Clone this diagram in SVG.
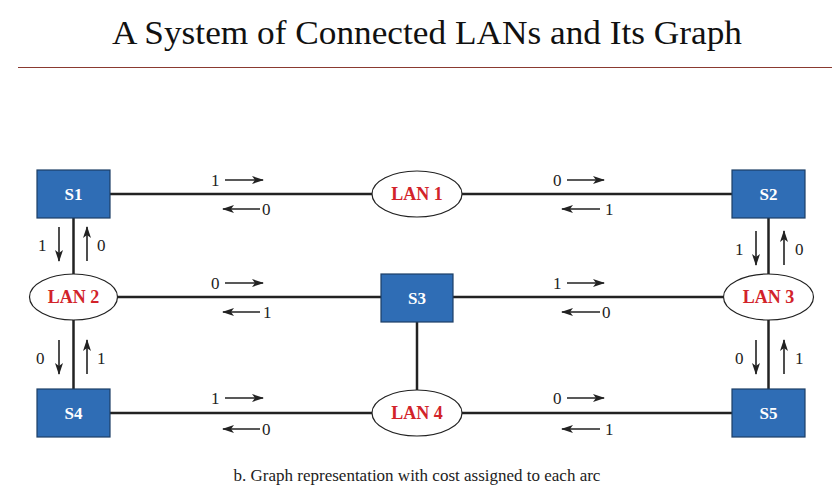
<svg xmlns="http://www.w3.org/2000/svg" width="835" height="499" viewBox="0 0 835 499">
<defs>
<marker id="ah" viewBox="0 0 12 8" refX="11" refY="4" markerWidth="12" markerHeight="8" markerUnits="userSpaceOnUse" orient="auto">
<path d="M0,0 L12,4 L0,8 L3,4 Z" fill="#222"/>
</marker>
</defs>
<rect width="835" height="499" fill="#fff"/>
<text font-family="Liberation Serif" font-size="34" fill="#111" x="427" y="44" text-anchor="middle" textLength="630" lengthAdjust="spacingAndGlyphs">A System of Connected LANs and Its Graph</text>
<line x1="18" y1="67.5" x2="832" y2="67.5" stroke="#8a3a30" stroke-width="1.2"/>

<g id="connectors" stroke="#222" stroke-width="2.5" fill="none">
<line x1="110" y1="194" x2="372" y2="194"/>
<line x1="462" y1="194" x2="732" y2="194"/>
<line x1="117" y1="297" x2="381" y2="297"/>
<line x1="453" y1="297" x2="723" y2="297"/>
<line x1="110" y1="413" x2="372" y2="413"/>
<line x1="462" y1="413" x2="732" y2="413"/>
<line x1="73.5" y1="218" x2="73.5" y2="275"/>
<line x1="73.5" y1="319" x2="73.5" y2="389"/>
<line x1="768.5" y1="218" x2="768.5" y2="275"/>
<line x1="768.5" y1="319" x2="768.5" y2="389"/>
<line x1="417" y1="322" x2="417" y2="391"/>
</g>

<g id="cost-arrows" stroke="#222" stroke-width="1.6" fill="none" marker-end="url(#ah)">
<line x1="225" y1="180" x2="263" y2="180"/>
<line x1="260" y1="209" x2="223" y2="209"/>
<line x1="567" y1="180" x2="604" y2="180"/>
<line x1="600" y1="209" x2="562" y2="209"/>
<line x1="225" y1="283" x2="263" y2="283"/>
<line x1="260" y1="312" x2="223" y2="312"/>
<line x1="567" y1="283" x2="604" y2="283"/>
<line x1="600" y1="312" x2="562" y2="312"/>
<line x1="225" y1="398" x2="263" y2="398"/>
<line x1="260" y1="429" x2="223" y2="429"/>
<line x1="567" y1="398" x2="604" y2="398"/>
<line x1="600" y1="429" x2="562" y2="429"/>
<line x1="59" y1="227" x2="59" y2="261"/>
<line x1="87" y1="261" x2="87" y2="227"/>
<line x1="59" y1="340" x2="59" y2="374"/>
<line x1="87" y1="374" x2="87" y2="340"/>
<line x1="756" y1="231" x2="756" y2="265"/>
<line x1="784" y1="265" x2="784" y2="231"/>
<line x1="756" y1="340" x2="756" y2="374"/>
<line x1="784" y1="374" x2="784" y2="340"/>
</g>

<g id="cost-labels" font-family="Liberation Serif" font-size="17" fill="#222">
<text x="211" y="186">1</text><text x="262" y="215">0</text>
<text x="553" y="186">0</text><text x="605" y="215">1</text>
<text x="211" y="289">0</text><text x="263" y="318">1</text>
<text x="553" y="289">1</text><text x="602" y="318">0</text>
<text x="211" y="404">1</text><text x="262" y="435">0</text>
<text x="553" y="404">0</text><text x="605" y="435">1</text>
<text x="38" y="251">1</text><text x="97" y="251">0</text>
<text x="36" y="364">0</text><text x="97" y="364">1</text>
<text x="735" y="255">1</text><text x="795" y="255">0</text>
<text x="735" y="364">0</text><text x="795" y="364">1</text>
</g>

<g id="S1"><rect x="37" y="170" width="73" height="48" fill="#2F6DB5" stroke="#1d3f66" stroke-width="1.2"/><text font-family="Liberation Serif" font-weight="bold" font-size="17" fill="#fff" text-anchor="middle" x="73.5" y="200">S1</text></g>
<g id="S2"><rect x="732" y="170" width="73" height="48" fill="#2F6DB5" stroke="#1d3f66" stroke-width="1.2"/><text font-family="Liberation Serif" font-weight="bold" font-size="17" fill="#fff" text-anchor="middle" x="768.5" y="200">S2</text></g>
<g id="S3"><rect x="381" y="274" width="72" height="48" fill="#2F6DB5" stroke="#1d3f66" stroke-width="1.2"/><text font-family="Liberation Serif" font-weight="bold" font-size="17" fill="#fff" text-anchor="middle" x="417" y="304">S3</text></g>
<g id="S4"><rect x="37" y="389" width="73" height="48" fill="#2F6DB5" stroke="#1d3f66" stroke-width="1.2"/><text font-family="Liberation Serif" font-weight="bold" font-size="17" fill="#fff" text-anchor="middle" x="73.5" y="419">S4</text></g>
<g id="S5"><rect x="732" y="389" width="73" height="48" fill="#2F6DB5" stroke="#1d3f66" stroke-width="1.2"/><text font-family="Liberation Serif" font-weight="bold" font-size="17" fill="#fff" text-anchor="middle" x="768.5" y="419">S5</text></g>

<g id="LAN1"><ellipse cx="417" cy="194" rx="45" ry="23" fill="#fff" stroke="#222" stroke-width="1.2"/><text font-family="Liberation Serif" font-weight="bold" font-size="18" fill="#D2232A" text-anchor="middle" x="417" y="200">LAN 1</text></g>
<g id="LAN2"><ellipse cx="73.5" cy="297" rx="44" ry="23" fill="#fff" stroke="#222" stroke-width="1.2"/><text font-family="Liberation Serif" font-weight="bold" font-size="18" fill="#D2232A" text-anchor="middle" x="73.5" y="303">LAN 2</text></g>
<g id="LAN3"><ellipse cx="768.5" cy="297" rx="45" ry="23" fill="#fff" stroke="#222" stroke-width="1.2"/><text font-family="Liberation Serif" font-weight="bold" font-size="18" fill="#D2232A" text-anchor="middle" x="768.5" y="303">LAN 3</text></g>
<g id="LAN4"><ellipse cx="417" cy="413" rx="45" ry="23" fill="#fff" stroke="#222" stroke-width="1.2"/><text font-family="Liberation Serif" font-weight="bold" font-size="18" fill="#D2232A" text-anchor="middle" x="417" y="419">LAN 4</text></g>

<text font-family="Liberation Serif" font-size="17" fill="#222" x="417" y="481" text-anchor="middle">b. Graph representation with cost assigned to each arc</text>
</svg>
